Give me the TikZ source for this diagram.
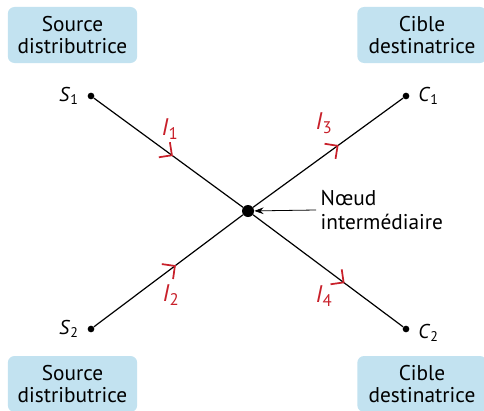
\documentclass[tikz,border=0pt]{standalone}
\usepackage{fontspec}
\setmainfont{PT Sans}
\usepackage{xcolor}
\usetikzlibrary{arrows.meta,decorations.markings,positioning}
\definecolor{boxblue}{HTML}{C2E2F0}
\definecolor{courant}{HTML}{C8202A}
\tikzset{
  box/.style={fill=boxblue, rounded corners=5pt, minimum width=97pt, minimum height=42pt, align=center, inner sep=0pt, font=\fontsize{16}{17}\selectfont},
  dot/.style={circle, fill=black, inner sep=0pt, minimum size=5pt},
  lbl/.style={font=\fontsize{15}{16}\selectfont},
  cur/.style={text=courant, font=\fontsize{18}{18}\selectfont},
  branche/.style={line width=0.9pt, postaction={decorate, decoration={markings,
      mark=at position #1 with {\arrow[courant, line width=1.3pt]{Straight Barb[length=7pt, width=14pt]}}}}}
}
\begin{document}
\begin{tikzpicture}[x=0.75pt,y=-0.75pt]
      \useasboundingbox (0,0) rectangle (484,410);
      \clip (0,0) rectangle (484,410);
      % Boxes
      \node[box] (src1) at (72.5,35) {Source\\distributrice};
      \node[box] (cib1) at (422,35) {Cible\\destinatrice};
      \node[box] (src2) at (72.5,384) {Source\\distributrice};
      \node[box] (cib2) at (422,384) {Cible\\destinatrice};
      % Points
      \node[dot] (S1) at (91,96) {};
      \node[dot] (C1) at (406,96) {};
      \node[dot] (S2) at (91,329) {};
      \node[dot] (C2) at (406,329) {};
      \node[dot, minimum size=9pt] (N) at (248,211) {};
      \node[lbl, left=3pt of S1] {\textit{S}\textsubscript{1}};
      \node[lbl, right=3pt of C1] {\textit{C}\textsubscript{1}};
      \node[lbl, left=3pt of S2] {\textit{S}\textsubscript{2}};
      \node[lbl, right=3pt of C2, yshift=-3pt] {\textit{C}\textsubscript{2}};
      % Branches
      \draw[branche=0.53] (S1) -- (N);
      \draw[branche=0.57] (N) -- (C1);
      \draw[branche=0.55] (S2) -- (N);
      \draw[branche=0.61] (N) -- (C2);
      % Currents
      \node[cur] (I1) at (170,129) {\textit{I}\textsubscript{1}};
      \node[cur] (I3) at (324,123) {\textit{I}\textsubscript{3}};
      \node[cur] (I2) at (171,295) {\textit{I}\textsubscript{2}};
      \node[cur] (I4) at (324,296) {\textit{I}\textsubscript{4}};
      % Node label
      \node[anchor=west, align=left, font=\fontsize{16}{17.5}\selectfont] (nlbl) at (316,210) {Nœud\\intermédiaire};
      \draw[-{Stealth[length=7pt,width=5pt]}, line width=0.6pt] (nlbl.west) -- (N);
\end{tikzpicture}
\end{document}
